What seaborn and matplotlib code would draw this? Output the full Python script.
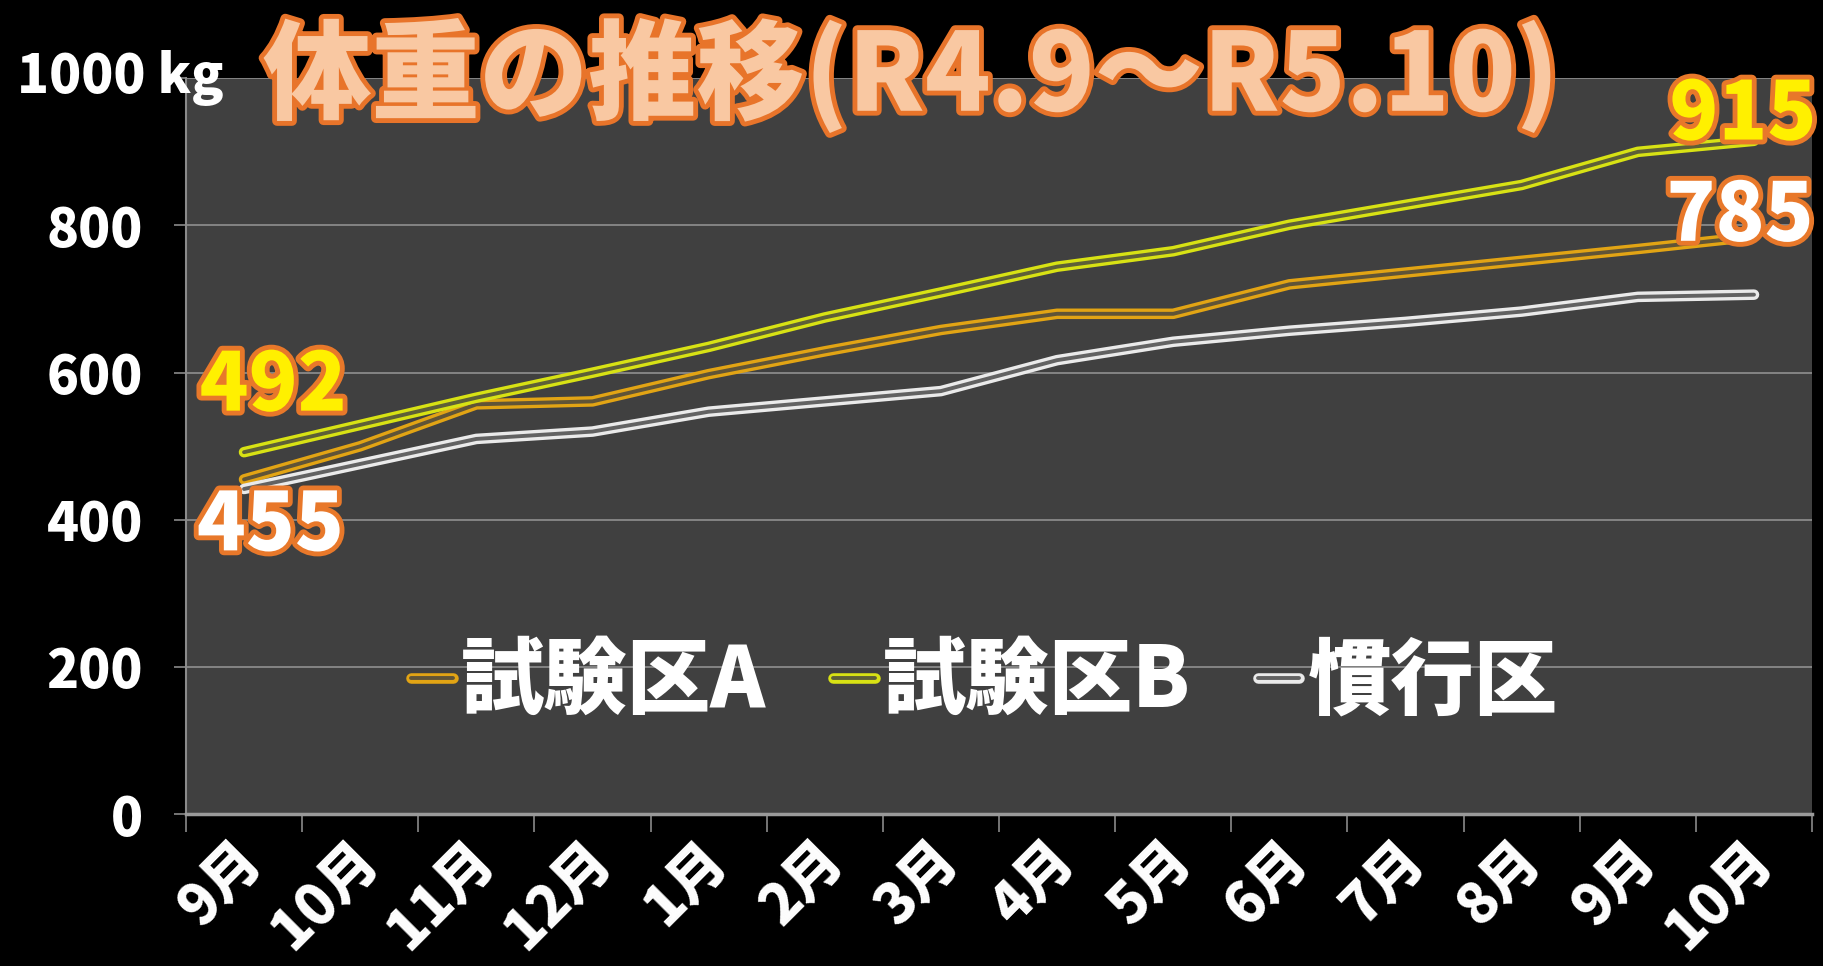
import numpy as np
import pandas as pd
import matplotlib
matplotlib.use("Agg")
import matplotlib.pyplot as plt
import matplotlib.transforms as mtransforms
from matplotlib import patheffects as pe
from matplotlib import colors as mcolors
from matplotlib.lines import Line2D
import seaborn as sns

# ---------------- data ----------------
months = ["9月", "10月", "11月", "12月", "1月", "2月", "3月",
          "4月", "5月", "6月", "7月", "8月", "9月", "10月"]
plot_a = [455, 500, 557, 561, 598, 629, 658, 680, 680, 720, 736, 752, 768, 785]
plot_b = [492, 529, 566, 600, 635, 675, 709, 744, 765, 801, 828, 855, 900, 915]
conventional = [442, 476, 510, 520, 547, 561, 575, 617, 642, 657, 669, 683, 703, 706]
series_names = ["試験区A", "試験区B", "慣行区"]
y_ticks = [0, 200, 400, 600, 800, 1000]
y_tick_labels = ["0", "200", "400", "600", "800", ""]
unit_label = "1000 kg"
title_text = "体重の推移(R4.9～R5.10)"

# ---------------- style ----------------
sns.set_theme(style="dark")
plt.rcParams["font.family"] = ["Noto Sans CJK JP", "DejaVu Sans"]
plt.rcParams["font.weight"] = "bold"

BG_FIG = "#000000"
BG_AX = "#404040"
COL_A = "#E2A414"
COL_B = "#D8E214"
COL_C = "#EAEAEA"
palette = {series_names[0]: COL_A, series_names[1]: COL_B, series_names[2]: COL_C}

OUTER_W = 7.6
GAP_W = 2.8

idx = np.arange(len(months))
df = pd.DataFrame({
    "pos": np.concatenate([idx, idx, idx]),
    "weight": plot_a + plot_b + conventional,
    "series": np.repeat(series_names, len(months)),
})

fig = plt.figure(figsize=(18.23, 9.66), dpi=100, facecolor=BG_FIG)
ax = fig.add_axes([0.102, 0.157, 0.892, 0.762])
ax.set_facecolor(BG_AX)

sns.lineplot(data=df, x="pos", y="weight", hue="series", palette=palette,
             hue_order=series_names, ax=ax, legend=False, sort=False)


def mix(c, bg, t):
    a = np.array(mcolors.to_rgb(c))
    b = np.array(mcolors.to_rgb(bg))
    return tuple(a * t + b * (1 - t))


# double-line effect
for line, name in zip(ax.lines, series_names):
    col = palette[name]
    line.set_color(mix(col, BG_AX, 0.2))
    line.set_linewidth(GAP_W)
    line.set_solid_joinstyle("round")
    line.set_path_effects([pe.Stroke(linewidth=OUTER_W, foreground=col), pe.Normal()])

ax.set_xlim(-0.5, len(months) - 0.5)
ax.set_ylim(0, 1000)
ax.set_xlabel("")
ax.set_ylabel("")

# grid
ax.yaxis.grid(True, color="#8a8a8a", linewidth=1.3)
ax.xaxis.grid(False)
ax.set_axisbelow(True)

for s in ["top", "right"]:
    ax.spines[s].set_visible(False)
ax.spines["left"].set_color("#8a8a8a")
ax.spines["left"].set_linewidth(1.5)
ax.spines["bottom"].set_color("#9a9a9a")
ax.spines["bottom"].set_linewidth(2.5)

# y ticks
ax.set_yticks(y_ticks)
ax.set_yticklabels(y_tick_labels)
ax.tick_params(axis="y", which="major", length=9, width=1.2, color="#8a8a8a",
               pad=22, labelsize=38, labelcolor="white", left=True)

# x ticks: labels at category centres, tick marks at boundaries
ax.set_xticks(idx)
ax.set_xticklabels(months)
ax.set_xticks(np.arange(-0.5, len(months), 1.0), minor=True)
ax.tick_params(axis="x", which="major", length=0, pad=26, labelsize=41,
               labelcolor="white", bottom=True)
ax.tick_params(axis="x", which="minor", length=13, width=1.2, color="#8a8a8a",
               bottom=True)
offset = mtransforms.ScaledTranslation(7 / 72, 0, fig.dpi_scale_trans)
for lab in ax.get_xticklabels():
    lab.set_rotation(45)
    lab.set_ha("right")
    lab.set_va("center")
    lab.set_rotation_mode("anchor")
    lab.set_fontweight("black")
    lab.set_transform(lab.get_transform() + offset)
for lab in ax.get_yticklabels():
    lab.set_fontweight("black")

# unit label at the 1000 tick
ax.text(0.023, y_ticks[-1], unit_label, transform=ax.get_yaxis_transform(),
        ha="right", va="center", fontsize=38, color="white", fontweight="black",
        clip_on=False)

# data labels
outline = [pe.Stroke(linewidth=7, foreground="#E8782A"), pe.Normal()]
lab_kw = dict(textcoords="offset points", ha="center", va="center",
              fontsize=58, fontweight="black", path_effects=outline,
              annotation_clip=False)
ax.annotate(str(plot_b[0]), xy=(idx[0], plot_b[0]), xytext=(21, 47),
            color="#FFF000", **lab_kw)
ax.annotate(str(plot_a[0]), xy=(idx[0], plot_a[0]), xytext=(19, -34),
            color="white", **lab_kw)
ax.annotate(str(plot_b[-1]), xy=(idx[-1], plot_b[-1]), xytext=(-8, 18),
            color="#FFF000", **lab_kw)
ax.annotate(str(plot_a[-1]), xy=(idx[-1], plot_a[-1]), xytext=(-10, 14),
            color="white", **lab_kw)

# legend
handles = []
for name in series_names:
    col = palette[name]
    h = Line2D([0], [0], color=mix(col, BG_AX, 0.2), linewidth=GAP_W)
    h.set_path_effects([pe.Stroke(linewidth=OUTER_W, foreground=col), pe.Normal()])
    handles.append(h)
leg = ax.legend(handles, series_names, loc="center", bbox_to_anchor=(0.491, 0.18),
                ncol=3, frameon=False, handlelength=0.5,
                handletextpad=0.1, columnspacing=0.8, labelcolor="white",
                prop={"weight": "black", "size": 60})

# title
fig.text(0.5, 0.922, title_text, ha="center", va="center", fontsize=78,
         color="#F9C8A2", fontweight="black",
         path_effects=[pe.Stroke(linewidth=7, foreground="#E8742A"), pe.Normal()])

fig.savefig("out.png", dpi=100, facecolor=BG_FIG)
